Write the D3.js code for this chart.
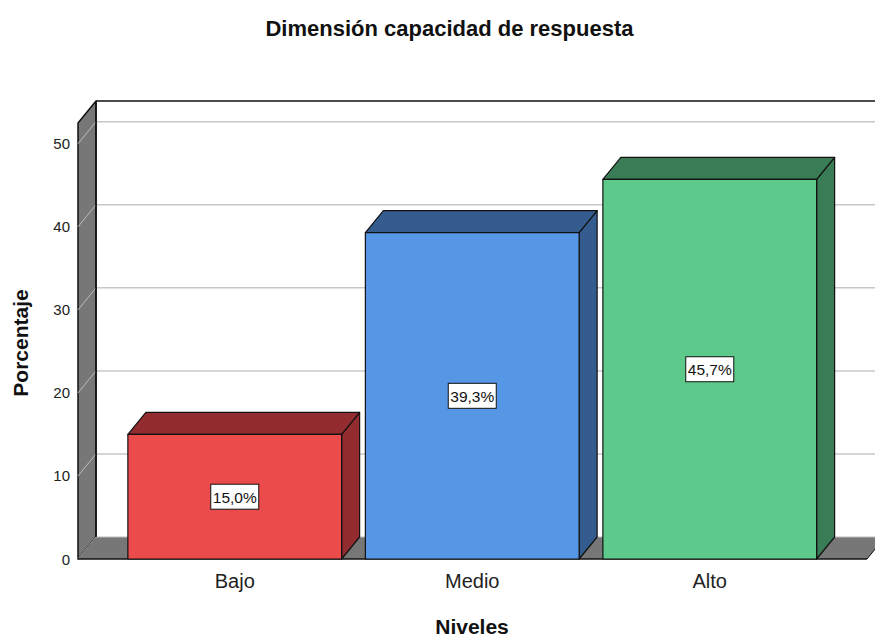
<!DOCTYPE html>
<html><head><meta charset="utf-8">
<script src="https://cdn.jsdelivr.net/npm/d3@7"></script>
<style>body{margin:0;background:#fff}svg{display:block;font-family:"Liberation Sans",Arial,sans-serif}</style>
</head><body>
<script>
const categories = ["Bajo", "Medio", "Alto"];
const values = [15.0, 39.3, 45.7];
const labels = ["15,0%", "39,3%", "45,7%"];
const yTicks = [0, 10, 20, 30, 40, 50];
const frontColors = ["#ec4b4c", "#5596e5", "#5dca8b"];
const darkColors = ["#922c2f", "#345c8f", "#3a7c55"];

const W = 875, H = 637;
const dx = 18, dy = -22;           // depth offset of the 3D box
const x0 = 78, x1 = 867, yBase = 559;

const svg = d3.select("body").append("svg").attr("width", W).attr("height", H);

const y = d3.scaleLinear().domain([0, 52.5]).range([yBase, 123]);
const x = d3.scaleBand().domain(categories).range([116, 828.5]).paddingInner(0.1).paddingOuter(0.05);

// back wall gridlines
const g = svg.append("g");
g.selectAll("line.grid").data(yTicks.slice(1)).join("line")
  .attr("x1", x0 + dx).attr("x2", W).attr("y1", d => y(d) + dy).attr("y2", d => y(d) + dy)
  .attr("stroke", "#c8c8c8").attr("stroke-width", 1.5);
// back plane top edge
g.append("line").attr("x1", x0 + dx).attr("x2", W).attr("y1", y(52.5) + dy).attr("y2", y(52.5) + dy)
  .attr("stroke", "#111").attr("stroke-width", 1.5);

// left side wall
g.append("path")
  .attr("d", `M${x0},${y(0)}L${x0},${y(52.5)}L${x0 + dx},${y(52.5) + dy}L${x0 + dx},${y(0) + dy}Z`)
  .attr("fill", "#777").attr("stroke", "#111").attr("stroke-width", 1.5).attr("stroke-linejoin", "round");
g.selectAll("line.wallgrid").data(yTicks).join("line")
  .attr("x1", x0).attr("x2", x0 + dx).attr("y1", d => y(d)).attr("y2", d => y(d) + dy)
  .attr("stroke", "#bdbdbd").attr("stroke-width", 1);

// floor
g.append("path")
  .attr("d", `M${x0},${y(0)}L${x0 + dx},${y(0) + dy}L${x1 + dx},${y(0) + dy}L${x1},${y(0)}Z`)
  .attr("fill", "#777");
g.append("line").attr("x1", x0 + dx).attr("x2", W).attr("y1", y(0) + dy).attr("y2", y(0) + dy)
  .attr("stroke", "#bdbdbd").attr("stroke-width", 1);
g.append("line").attr("x1", x0 + dx).attr("x2", x0 + dx).attr("y1", y(52.5) + dy).attr("y2", y(0) + dy)
  .attr("stroke", "#111").attr("stroke-width", 1.5);
g.append("line").attr("x1", x0).attr("x2", x1).attr("y1", y(0)).attr("y2", y(0))
  .attr("stroke", "#111").attr("stroke-width", 1.5);
g.append("line").attr("x1", x1).attr("x2", x1 + dx).attr("y1", y(0)).attr("y2", y(0) + dy)
  .attr("stroke", "#111").attr("stroke-width", 1);

// bars
const bars = svg.selectAll("g.bar").data(categories).join("g");
bars.each(function (c, i) {
  const b = d3.select(this);
  const bx = x(c), bw = x.bandwidth(), top = y(values[i]), bot = y(0);
  const st = { stroke: "#111", "stroke-width": 1.2, "stroke-linejoin": "round" };
  const side = b.append("path")
    .attr("d", `M${bx + bw},${bot}L${bx + bw},${top}L${bx + bw + dx},${top + dy}L${bx + bw + dx},${bot + dy}Z`)
    .attr("fill", darkColors[i]);
  const topF = b.append("path")
    .attr("d", `M${bx},${top}L${bx + dx},${top + dy}L${bx + bw + dx},${top + dy}L${bx + bw},${top}Z`)
    .attr("fill", darkColors[i]);
  const front = b.append("rect").attr("x", bx).attr("y", top).attr("width", bw).attr("height", bot - top)
    .attr("fill", frontColors[i]);
  [side, topF, front].forEach(s => Object.entries(st).forEach(([k, v]) => s.attr(k, v)));

  // value label in a boxed tag at the middle of the bar
  const cx = bx + bw / 2, cy = (top + bot) / 2;
  b.append("rect").attr("x", cx - 24).attr("y", cy - 12.5).attr("width", 48).attr("height", 25)
    .attr("fill", "#fff").attr("stroke", "#111").attr("stroke-width", 1);
  b.append("text").attr("x", cx).attr("y", cy + 6).attr("text-anchor", "middle")
    .attr("font-size", 15.5).attr("fill", "#111").text(labels[i]);
});

// y axis tick labels
svg.selectAll("text.ytick").data(yTicks).join("text")
  .attr("x", 70).attr("y", d => y(d) + 5.5).attr("text-anchor", "end")
  .attr("font-size", 15).attr("fill", "#222").text(d => d);

// category labels
svg.selectAll("text.xcat").data(categories).join("text")
  .attr("x", d => x(d) + x.bandwidth() / 2).attr("y", 588).attr("text-anchor", "middle")
  .attr("font-size", 20).attr("fill", "#222").text(d => d);

// titles
svg.append("text").attr("x", 449.5).attr("y", 36).attr("text-anchor", "middle")
  .attr("font-size", 22).attr("font-weight", "bold").attr("fill", "#111").text("Dimensión capacidad de respuesta");
svg.append("text").attr("x", 472).attr("y", 634).attr("text-anchor", "middle")
  .attr("font-size", 21).attr("font-weight", "bold").attr("fill", "#111").text("Niveles");
svg.append("text").attr("transform", "translate(28,343) rotate(-90)").attr("text-anchor", "middle")
  .attr("font-size", 21).attr("font-weight", "bold").attr("fill", "#111").text("Porcentaje");
</script>
</body></html>
